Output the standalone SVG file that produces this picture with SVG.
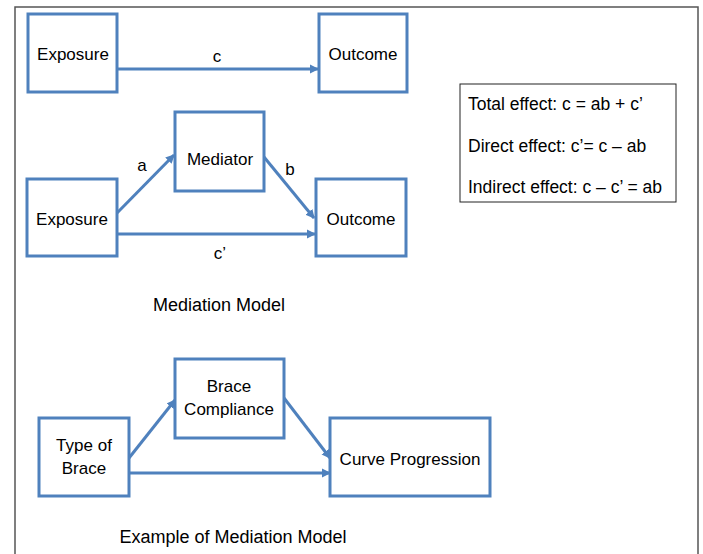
<svg xmlns="http://www.w3.org/2000/svg" width="703" height="554" viewBox="0 0 703 554">
<defs>
<marker id="ah" markerWidth="10" markerHeight="10" refX="8" refY="5" orient="auto" markerUnits="userSpaceOnUse">
<path d="M0,0.5 L9,5 L0,9.5 Z" fill="#4f81bd"/>
</marker>
</defs>
<style>
.box{fill:#fff;stroke:#4f81bd;stroke-width:3}
.t{font-family:"Liberation Sans",Arial,sans-serif;font-size:17px;fill:#000;text-anchor:middle}
.h{font-family:"Liberation Sans",Arial,sans-serif;font-size:18px;fill:#000;text-anchor:middle}
.e{font-family:"Liberation Sans",Arial,sans-serif;font-size:17.5px;fill:#000}
.c{fill:none;stroke:#4f81bd;stroke-width:3;marker-end:url(#ah)}
</style>
<rect x="0" y="0" width="703" height="554" fill="#fff"/>
<path d="M15,560 V7 H698 V560" fill="none" stroke="#555" stroke-width="1.5"/>
<g id="connectors">
<line class="c" x1="117" y1="69" x2="318" y2="69"/>
<line class="c" x1="117" y1="213" x2="174" y2="155"/>
<line class="c" x1="264" y1="157" x2="314" y2="218"/>
<line class="c" x1="117" y1="234" x2="315" y2="234"/>
<line class="c" x1="129" y1="458" x2="175" y2="400"/>
<line class="c" x1="284" y1="398" x2="330" y2="458"/>
<line class="c" x1="129" y1="473" x2="330" y2="473"/>
<text class="t" x="217" y="62">c</text>
<text class="t" x="142" y="171">a</text>
<text class="t" x="290" y="175">b</text>
<text class="t" x="220" y="259">c’</text>
</g>
<g id="exposure1"><rect class="box" x="28" y="14" width="89" height="78"/><text class="t" x="73" y="60">Exposure</text></g>
<g id="outcome1"><rect class="box" x="319" y="14" width="88" height="78"/><text class="t" x="363" y="60">Outcome</text></g>
<g id="mediator"><rect class="box" x="175" y="112" width="89" height="79"/><text class="t" x="220" y="165">Mediator</text></g>
<g id="exposure2"><rect class="box" x="27" y="179" width="90" height="77"/><text class="t" x="72" y="225">Exposure</text></g>
<g id="outcome2"><rect class="box" x="316" y="179" width="90" height="77"/><text class="t" x="361" y="225">Outcome</text></g>
<g id="effects"><rect x="460" y="84" width="216" height="118" fill="#fff" stroke="#222" stroke-width="1"/>
<text class="e" x="468" y="110">Total effect: c = ab + c’</text>
<text class="e" x="468" y="152">Direct effect: c’= c – ab</text>
<text class="e" x="468" y="193">Indirect effect: c – c’ = ab</text></g>
<g id="title1"><text class="h" x="219" y="311">Mediation Model</text></g>
<g id="brace-compliance"><rect class="box" x="175" y="359" width="109" height="79"/><text class="t" x="229" y="392">Brace</text><text class="t" x="229" y="415">Compliance</text></g>
<g id="type-of-brace"><rect class="box" x="39" y="418" width="90" height="78"/><text class="t" x="84" y="451">Type of</text><text class="t" x="84" y="474">Brace</text></g>
<g id="curve-progression"><rect class="box" x="330" y="418" width="160" height="78"/><text class="t" x="410" y="465">Curve Progression</text></g>
<g id="title2"><text class="h" x="233" y="543">Example of Mediation Model</text></g>
</svg>
